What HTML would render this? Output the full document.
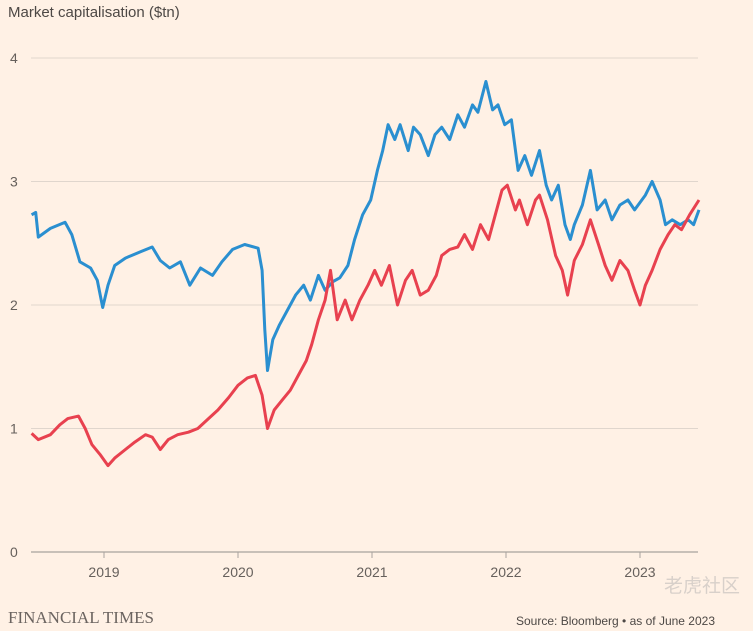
<!DOCTYPE html>
<html><head><meta charset="utf-8">
<style>
body{margin:0;background:#fff1e5;}
svg{display:block;font-family:"Liberation Sans",sans-serif;}
</style></head>
<body>
<svg id="chart" width="753" height="631" viewBox="0 0 753 631" xmlns="http://www.w3.org/2000/svg">
<rect width="753" height="631" fill="#fff1e5"/>
<text x="8" y="17" font-size="15" fill="#4d4845">Market capitalisation ($tn)</text>
<g id="grid"></g>
<g id="xaxis"></g>
<g id="series"></g>
<text x="8" y="623" font-family="Liberation Serif,serif" font-size="17" fill="#6b6460">FINANCIAL TIMES</text>
<text x="715" y="625" text-anchor="end" font-size="12" fill="#4d4845">Source: Bloomberg • as of June 2023</text>
<text x="740" y="592" text-anchor="end" font-family="Liberation Sans,Noto Sans CJK SC,sans-serif" font-size="19" fill="#d8d0ca">老虎社区</text>
</svg>
<script>
const yTicks=[0,1,2,3,4];
const xTicks=[2019,2020,2021,2022,2023];
const blueYears=[2018.46,2018.49,2018.51,2018.60,2018.71,2018.76,2018.82,2018.90,2018.95,2018.99,2019.03,2019.08,2019.16,2019.27,2019.36,2019.42,2019.49,2019.57,2019.64,2019.72,2019.81,2019.88,2019.96,2020.05,2020.15,2020.18,2020.20,2020.22,2020.26,2020.31,2020.37,2020.43,2020.49,2020.54,2020.60,2020.65,2020.71,2020.76,2020.82,2020.87,2020.93,2020.99,2021.04,2021.08,2021.12,2021.17,2021.21,2021.27,2021.31,2021.36,2021.42,2021.47,2021.52,2021.58,2021.64,2021.69,2021.75,2021.79,2021.85,2021.90,2021.94,2021.99,2022.04,2022.09,2022.14,2022.19,2022.25,2022.30,2022.34,2022.39,2022.44,2022.48,2022.51,2022.57,2022.63,2022.68,2022.74,2022.79,2022.85,2022.91,2022.96,2023.04,2023.09,2023.15,2023.19,2023.24,2023.30,2023.36,2023.40,2023.44];
const blueValues=[2.73,2.75,2.55,2.62,2.67,2.57,2.35,2.30,2.20,1.98,2.16,2.32,2.38,2.43,2.47,2.36,2.30,2.35,2.16,2.30,2.24,2.35,2.45,2.49,2.46,2.28,1.80,1.47,1.72,1.84,1.96,2.08,2.16,2.04,2.24,2.12,2.19,2.22,2.32,2.53,2.73,2.85,3.09,3.25,3.46,3.34,3.46,3.25,3.44,3.38,3.21,3.38,3.44,3.34,3.54,3.44,3.62,3.56,3.81,3.58,3.62,3.46,3.50,3.09,3.21,3.05,3.25,2.97,2.85,2.97,2.65,2.53,2.65,2.81,3.09,2.77,2.85,2.69,2.81,2.85,2.77,2.89,3.00,2.85,2.65,2.69,2.65,2.69,2.65,2.77];
const redYears=[2018.46,2018.51,2018.60,2018.67,2018.73,2018.81,2018.86,2018.91,2018.97,2019.03,2019.08,2019.16,2019.23,2019.31,2019.36,2019.42,2019.48,2019.55,2019.63,2019.70,2019.78,2019.85,2019.93,2020.00,2020.07,2020.13,2020.18,2020.22,2020.27,2020.33,2020.39,2020.45,2020.51,2020.55,2020.60,2020.65,2020.69,2020.74,2020.80,2020.85,2020.91,2020.97,2021.02,2021.07,2021.13,2021.19,2021.25,2021.30,2021.36,2021.42,2021.48,2021.52,2021.58,2021.64,2021.69,2021.75,2021.81,2021.87,2021.92,2021.97,2022.01,2022.07,2022.10,2022.16,2022.22,2022.25,2022.31,2022.37,2022.42,2022.46,2022.51,2022.57,2022.63,2022.69,2022.74,2022.79,2022.85,2022.91,2022.96,2023.00,2023.04,2023.09,2023.15,2023.21,2023.26,2023.31,2023.37,2023.44];
const redValues=[0.96,0.91,0.95,1.03,1.08,1.10,1.00,0.87,0.79,0.70,0.76,0.83,0.89,0.95,0.93,0.83,0.91,0.95,0.97,1.00,1.08,1.15,1.25,1.35,1.41,1.43,1.27,1.00,1.15,1.23,1.31,1.43,1.55,1.68,1.88,2.04,2.28,1.88,2.04,1.88,2.04,2.16,2.28,2.16,2.32,2.00,2.20,2.28,2.08,2.12,2.24,2.40,2.45,2.47,2.57,2.45,2.65,2.53,2.73,2.93,2.97,2.77,2.85,2.65,2.85,2.89,2.69,2.40,2.28,2.08,2.36,2.49,2.69,2.49,2.32,2.20,2.36,2.28,2.12,2.00,2.16,2.28,2.45,2.57,2.65,2.61,2.73,2.85];

const NS="http://www.w3.org/2000/svg";
const X0=31,X1=698,Y0=552,PXU=123.5;
function xs(yr){return 104+(yr-2019)*134;}
function ys(v){return Y0-v*PXU;}
const grid=document.getElementById('grid');
yTicks.forEach(t=>{
  const l=document.createElementNS(NS,'line');
  l.setAttribute('x1',X0);l.setAttribute('x2',X1);
  l.setAttribute('y1',ys(t));l.setAttribute('y2',ys(t));
  l.setAttribute('stroke',t===0?'#a8a29e':'#e0d6cd');
  l.setAttribute('stroke-width',t===0?1.2:1);
  
  
  grid.appendChild(l);
  const tx=document.createElementNS(NS,'text');
  tx.setAttribute('x',10);tx.setAttribute('y',ys(t)+5);
  tx.setAttribute('font-size','14');tx.setAttribute('fill','#66605c');
  tx.textContent=t;
  
  
  grid.appendChild(tx);
});
const xa=document.getElementById('xaxis');
xTicks.forEach(t=>{
  const l=document.createElementNS(NS,'line');
  l.setAttribute('x1',xs(t));l.setAttribute('x2',xs(t));
  l.setAttribute('y1',Y0);l.setAttribute('y2',Y0+6);
  l.setAttribute('stroke','#a8a29e');
  
  
  xa.appendChild(l);
  const tx=document.createElementNS(NS,'text');
  tx.setAttribute('x',xs(t));tx.setAttribute('y',Y0+25);
  tx.setAttribute('text-anchor','middle');
  tx.setAttribute('font-size','14');tx.setAttribute('fill','#66605c');
  tx.textContent=t;
  
  
  xa.appendChild(tx);
});
function drawLine(years,vals,color,name){
  const p=document.createElementNS(NS,'path');
  p.setAttribute('d',years.map((y,i)=>(i?'L':'M')+xs(y).toFixed(1)+','+ys(vals[i]).toFixed(1)).join(''));
  p.setAttribute('fill','none');p.setAttribute('stroke',color);
  p.setAttribute('stroke-width','3');p.setAttribute('stroke-linejoin','round');
  
  
  document.getElementById('series').appendChild(p);
}
drawLine(blueYears,blueValues,'#2a8fd0','apple-line');
drawLine(redYears,redValues,'#e8414f','microsoft-line');
</script>
</body></html>
